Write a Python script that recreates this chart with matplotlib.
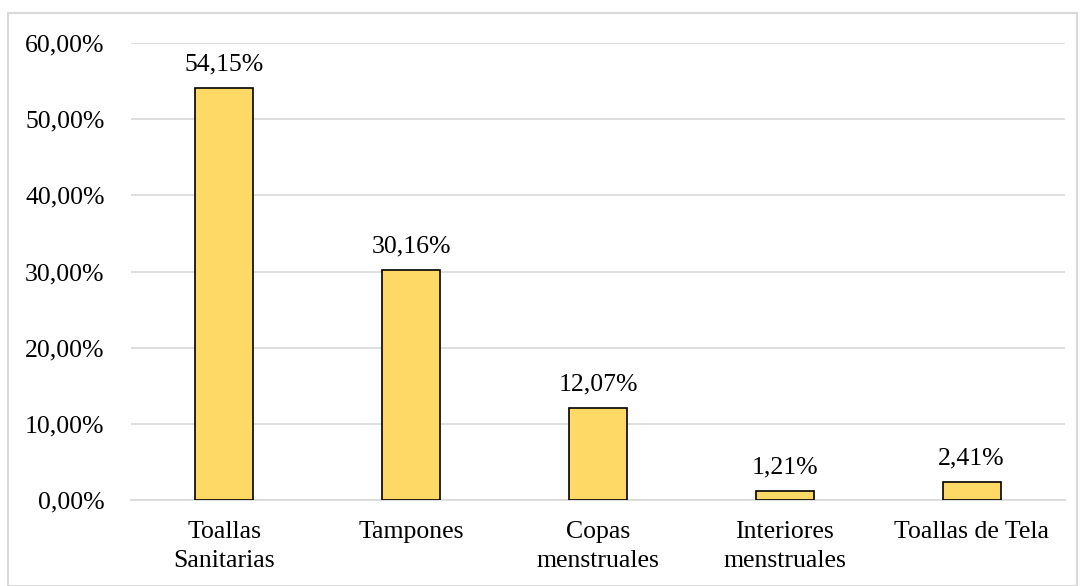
import matplotlib
matplotlib.use("Agg")
import matplotlib.pyplot as plt
from matplotlib.patches import Rectangle
from matplotlib.ticker import FuncFormatter

categories = ["Toallas\nSanitarias", "Tampones", "Copas\nmenstruales",
              "Interiores\nmenstruales", "Toallas de Tela"]
values = [54.15, 30.16, 12.07, 1.21, 2.41]
y_ticks = [0, 10, 20, 30, 40, 50, 60]

plt.rcParams['font.family'] = ['Liberation Serif', 'DejaVu Serif']
FS = 18.5


def pct(v):
    """Format a percent with comma decimals"""
    return "{:.2f}%".format(v).replace(".", ",")


fig = plt.figure(figsize=(10.8, 5.86), dpi=100)
ax = fig.add_axes([131 / 1080, 86 / 586, 934 / 1080, 457 / 586])

x = range(len(categories))
bars = ax.bar(x, values, width=0.31, color="#FFD966", edgecolor="black",
              linewidth=1.2, zorder=3)

for rect, v in zip(bars, values):
    ax.annotate(pct(v), xy=(rect.get_x() + rect.get_width() / 2, v),
                xytext=(0, 9), textcoords="offset points",
                ha="center", va="bottom", fontsize=FS)

ax.set_xlim(-0.5, len(categories) - 0.5)
ax.set_ylim(0, 60)
ax.set_yticks(y_ticks)
ax.yaxis.set_major_formatter(FuncFormatter(lambda v, p: pct(v)))
ax.set_xticks(list(x))
ax.set_xticklabels(categories, fontsize=FS, linespacing=1.45)
ax.tick_params(axis="y", labelsize=FS, length=0, pad=19)
ax.tick_params(axis="x", length=0, pad=15)
ax.grid(axis="y", color="#d9d9d9", linewidth=1.2, zorder=0)
for side in ["top", "right", "left"]:
    ax.spines[side].set_visible(False)
ax.spines["bottom"].set_color("#d9d9d9")
ax.spines["bottom"].set_linewidth(1.2)

# light frame around the whole chart
fig.patches.append(Rectangle((8 / 1080, 0), 1069 / 1080, 573 / 586,
                             transform=fig.transFigure, fill=False,
                             edgecolor="#d9d9d9", linewidth=1.5))

fig.savefig("out.png", dpi=100)
